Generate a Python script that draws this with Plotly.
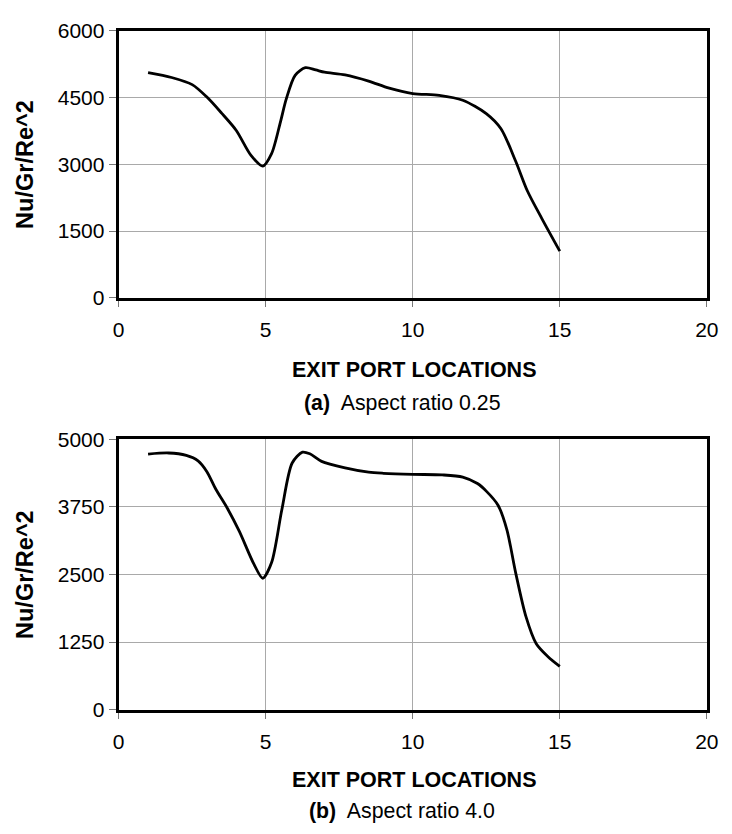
import plotly.graph_objects as go

# ---- data ----
x_a = [1, 1.8, 2.5, 3, 3.5, 4, 4.5, 4.9, 5.2, 5.5, 5.7, 6, 6.35, 6.7, 7, 7.7,
       8.5, 9.2, 10, 10.9, 11.7, 12.5, 13, 13.5, 13.9, 14.4, 15]
y_a = [5060, 4950, 4790, 4510, 4150, 3760, 3200, 2960, 3240, 3950, 4470, 5000,
       5170, 5120, 5070, 5010, 4870, 4710, 4590, 4550, 4440, 4140, 3800, 3070,
       2400, 1770, 1050]

x_b = [1, 1.7, 2.3, 2.7, 3, 3.3, 3.7, 4.1, 4.6, 4.9, 5.2, 5.55, 5.9, 6.25, 6.5,
       6.9, 7.7, 8.5, 9, 10, 11, 11.7, 12.2, 12.5, 12.9, 13.2, 13.5, 13.85,
       14.2, 14.6, 15]
y_b = [4725, 4745, 4700, 4600, 4400, 4080, 3720, 3300, 2690, 2430, 2720, 3700,
       4560, 4760, 4730, 4590, 4470, 4390, 4370, 4350, 4340, 4300, 4180, 4040,
       3780, 3330, 2530, 1720, 1220, 980, 800]

x_ticks = [0, 5, 10, 15, 20]
y_ticks_a = [0, 1500, 3000, 4500, 6000]
y_ticks_b = [0, 1250, 2500, 3750, 5000]

y_title = "Nu/Gr/Re^2"
x_title = "EXIT PORT LOCATIONS"
caption_a = "<b>(a)</b>\u00a0 Aspect ratio 0.25"
caption_b = "<b>(b)</b>\u00a0 Aspect ratio 4.0"

W, H = 732, 834
FONT = "Liberation Sans, Arial, sans-serif"

def px_x(p):
    return p / W

def px_y(p):
    return 1 - p / H

fig = go.Figure()
fig.add_trace(go.Scatter(x=x_a, y=y_a, mode="lines", xaxis="x", yaxis="y",
                         line=dict(color="black", width=2.8, shape="spline", smoothing=0.8),
                         showlegend=False, hoverinfo="skip"))
fig.add_trace(go.Scatter(x=x_b, y=y_b, mode="lines", xaxis="x2", yaxis="y2",
                         line=dict(color="black", width=2.8, shape="spline", smoothing=0.8),
                         showlegend=False, hoverinfo="skip"))

xdom = [px_x(115.5), px_x(718.5)]
common_x = dict(range=[0, 20], tickvals=x_ticks, showgrid=True, gridcolor="#a9a9a9",
                gridwidth=1.3, showline=True, linecolor="black", linewidth=3,
                mirror=True, ticks="outside", ticklen=6, tickwidth=1, tickcolor="#777",
                zeroline=False, tickfont=dict(family=FONT, size=21, color="black"),
                ticklabelstandoff=5, domain=xdom)
common_y = dict(showgrid=True, gridcolor="#a9a9a9", gridwidth=1.3, showline=True,
                linecolor="black", linewidth=3, mirror=True, ticks="outside",
                ticklen=7, tickwidth=1, tickcolor="#777", zeroline=False,
                tickfont=dict(family=FONT, size=21, color="black"),
                ticklabelstandoff=0)

fig.update_layout(
    width=W, height=H, margin=dict(l=0, r=0, t=0, b=0),
    paper_bgcolor="white", plot_bgcolor="white",
    xaxis=dict(common_x, anchor="y"),
    yaxis=dict(common_y, range=[0, 6000], tickvals=y_ticks_a, anchor="x",
               domain=[px_y(294), px_y(19.3)]),
    xaxis2=dict(common_x, anchor="y2"),
    yaxis2=dict(common_y, range=[0, 5000], tickvals=y_ticks_b, anchor="x2",
                domain=[px_y(717.5), px_y(439.3)]),
)

ann = []
for yc, xt, cap, cy in [(156.7, 367.7, caption_a, 402), (578.4, 789.3, caption_b, 821.7)]:
    ann.append(dict(text="<b>" + y_title + "</b>", x=px_x(20), y=px_y(yc), xref="paper",
                    yref="paper", showarrow=False, textangle=-90, xanchor="center",
                    yanchor="middle", font=dict(family=FONT, size=23.5, color="black")))
    ann.append(dict(text="<b>" + x_title + "</b>", x=px_x(418), y=px_y(xt), xref="paper",
                    yref="paper", showarrow=False, xanchor="center", yanchor="middle",
                    font=dict(family=FONT, size=21.5, color="black")))
    ann.append(dict(text=cap, x=px_x(406), y=px_y(cy), xref="paper", yref="paper",
                    showarrow=False, xanchor="center", yanchor="middle",
                    font=dict(family=FONT, size=21.3, color="black")))
fig.update_layout(annotations=ann)

fig.write_html("out.html")
